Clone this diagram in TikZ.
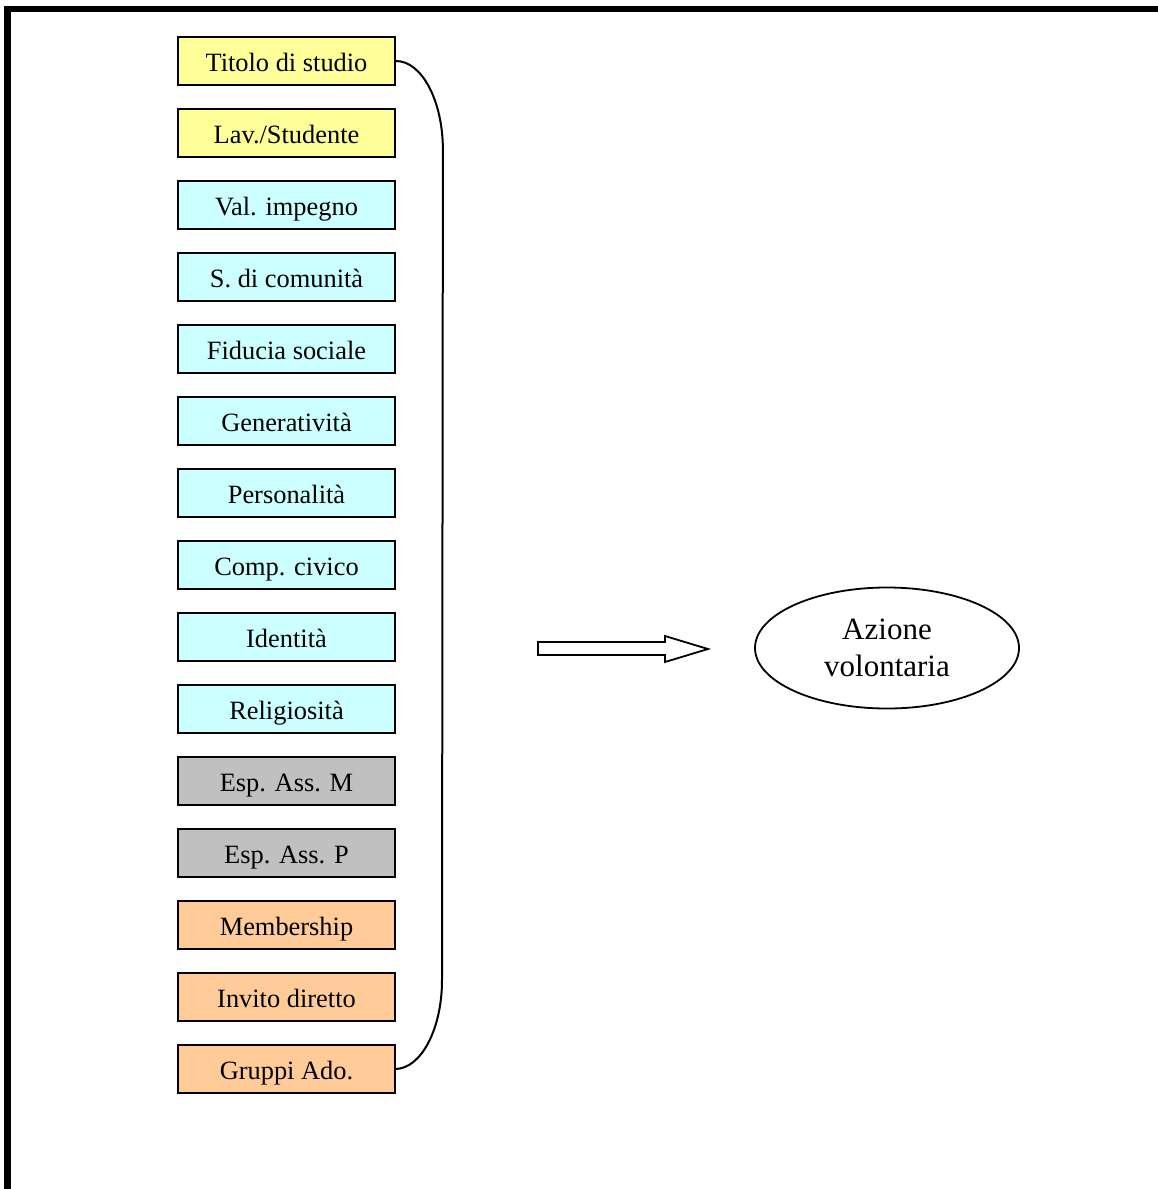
\documentclass[tikz,border=0pt]{standalone}
\usepackage{fontspec}
\setmainfont{Liberation Serif}
\usetikzlibrary{shapes.geometric}
\definecolor{cYellow}{HTML}{FFFF99}
\definecolor{cCyan}{HTML}{CCFFFF}
\definecolor{cGray}{HTML}{C0C0C0}
\definecolor{cOrange}{HTML}{FFCC99}
\begin{document}
\begin{tikzpicture}[x=1pt,y=-1pt,
  varbox/.style={draw=black, line width=1.8pt, minimum width=217pt, minimum height=48pt,
    inner sep=0pt, text height=26pt, text depth=5pt, font=\fontsize{26.4}{30}\selectfont},
  link/.style={draw=black, line width=2pt},
  outcome/.style={ellipse, draw=black, line width=1.8pt, minimum width=264pt, minimum height=121pt,
    inner sep=0pt, align=center, font=\fontsize{31}{37}\selectfont}]
\useasboundingbox (0,0) rectangle (1158,1189);
\fill[white] (0,0) rectangle (1158,1189);
% outer frame (left and top edges)
\draw[line width=6.5pt, line join=miter] (7.5,1200) -- (7.5,9) -- (1170,9);

% explanatory variables
\foreach \name/\txt/\col [count=\i from 0] in {
  a/{Titolo di studio}/cYellow,
  b/{Lav./Studente}/cYellow,
  c/{Val. impegno}/cCyan,
  d/{S. di comunità}/cCyan,
  e/{Fiducia sociale}/cCyan,
  f/{Generatività}/cCyan,
  g/{Personalità}/cCyan,
  h/{Comp. civico}/cCyan,
  k/{Identità}/cCyan,
  l/{Religiosità}/cCyan,
  m/{Esp. Ass. M}/cGray,
  n/{Esp. Ass. P}/cGray,
  o/{Membership}/cOrange,
  p/{Invito diretto}/cOrange,
  q/{Gruppi Ado.}/cOrange}
  \node[varbox, fill=\col] (\name) at (286.5, 61+72*\i) {\txt};

% bracket grouping all variables
\coordinate (brBot) at (442,980);
\draw[link] (a.east) arc[start angle=-90, end angle=0, x radius=47, y radius=89]
  -- (brBot) arc[start angle=0, end angle=90, x radius=47, y radius=89];

% block arrow
\draw[line width=1.8pt, fill=white, line join=miter]
  (538,642) -- (665,642) -- (665,636) -- (708,649) -- (665,662) -- (665,655) -- (538,655) -- cycle;

% outcome
\node[outcome] (y) at (887,648) {\raisebox{-3pt}{Azione}\\\raisebox{-3pt}{volontaria}};
\end{tikzpicture}
\end{document}
